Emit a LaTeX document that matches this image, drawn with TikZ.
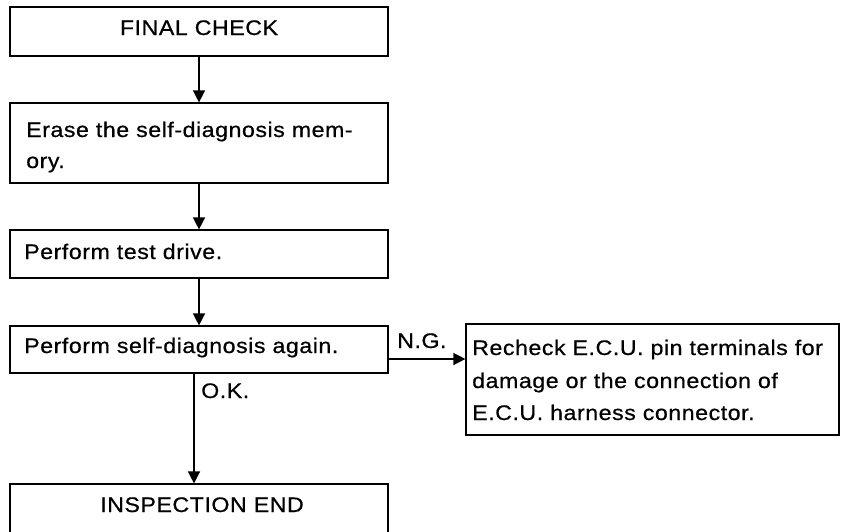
\documentclass[tikz,border=0pt]{standalone}
\usepackage{fontspec}
\setmainfont{Liberation Sans}[FakeStretch=1.1,LetterSpace=2.5,FakeBold=0.6]
\usetikzlibrary{arrows.meta}
\begin{document}
\begin{tikzpicture}[x=0.03cm,y=-0.03cm,
  box/.style={draw, line width=1pt, inner sep=0pt, minimum width=11.34cm},
  txt/.style={inner sep=0pt, anchor=base west, font=\fontsize{18}{21}\selectfont},
  ctxt/.style={inner sep=0pt, anchor=base, font=\fontsize{18}{21}\selectfont},
  arr/.style={line width=1.2pt, -{Triangle[width=3.6mm,length=3.6mm]}}]
\useasboundingbox (0,0) rectangle (846,531);
% boxes
\node[box, minimum height=1.47cm] (fc) at (199,31.5) {};
\node[box, minimum height=2.4cm] (er) at (199,143) {};
\node[box, minimum height=1.44cm] (td) at (199,254) {};
\node[box, minimum height=1.41cm] (sd) at (199,349.5) {};
\node[box, minimum width=11.19cm, minimum height=3.33cm] (rc) at (652.5,379.5) {};
\node[box, minimum height=1.62cm] (ie) at (199,511) {};
% texts
\node[ctxt] (t1) at (199,35) {FINAL CHECK};
\node[txt] (t2a) at (26,137) {Erase the self-diagnosis mem-};
\node[txt] (t2b) at (26,168) {ory.};
\node[txt] (t3) at (24,259) {Perform test drive.};
\node[txt] (t4) at (24,353) {Perform self-diagnosis again.};
\node[txt] (t5a) at (472,355) {Recheck E.C.U. pin terminals for};
\node[txt] (t5b) at (472,388) {damage or the connection of};
\node[txt] (t5c) at (472,420) {E.C.U. harness connector.};
\node[ctxt] (t6) at (202,512) {INSPECTION END};
\node[txt] (ng) at (397,348) {N.G.};
\node[txt] (ok) at (201,398) {O.K.};
% connectors
\draw[arr] (fc.south) -- (er.north);
\draw[arr] (er.south) -- (td.north);
\draw[arr] (td.south) -- (sd.north);
\draw[arr] ([yshift=-0.285cm]sd.east) coordinate (ng0) -- (ng0 -| rc.west);
\draw[arr] ([xshift=-0.15cm]sd.south) -- ([xshift=-0.15cm]ie.north);
\end{tikzpicture}
\end{document}
